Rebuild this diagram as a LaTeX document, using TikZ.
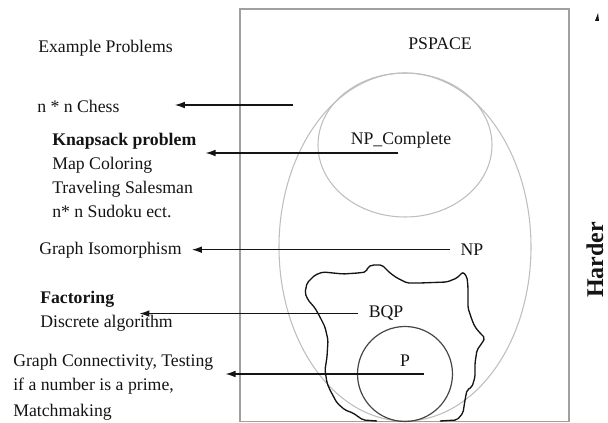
\documentclass[tikz,border=0pt]{standalone}
\usepackage{fontspec}
\setmainfont{Liberation Serif}
\usetikzlibrary{arrows.meta, positioning, calc}
\definecolor{boxgray}{RGB}{160, 160, 160}
\definecolor{setgray}{RGB}{190, 190, 190}
\definecolor{pgray}{RGB}{70, 70, 70}
\definecolor{inkblack}{RGB}{20, 20, 20}
\tikzset{
  x=0.75pt, y=-0.75pt,
  font=\fontsize{13.3}{16}\selectfont,
  examplelabel/.style={anchor=base west, inner sep=0pt, text=inkblack},
  classlabel/.style={anchor=base, inner ysep=0pt, inner xsep=7.5pt, text=inkblack},
  pspacebox/.style={draw=boxgray, line width=0.8pt},
  setline/.style={draw=setgray, line width=0.8pt},
  pline/.style={draw=pgray, line width=0.9pt},
  bqpline/.style={draw=inkblack, line width=1pt, rounded corners=1.5pt},
  probarrow/.style={
    draw=inkblack, -{Latex[length=7.5pt, width=5pt]}, line width=0.9pt
  }
}
\begin{document}
\begin{tikzpicture}
  \useasboundingbox (0,0) rectangle (608,423);

  % Complexity classes
  \draw[pspacebox] (240,9) rectangle (569,421.5);
  \draw[setline] (405,247) ellipse [x radius=126, y radius=174];
  \draw[setline] (405,145) ellipse [x radius=87, y radius=72];
  \draw[bqpline] (377,421) -- (363,420) -- (353,413) -- (345,410) -- (337,403)
    -- (330,390) -- (327,383) -- (325,370) -- (327,357) -- (328,340) -- (325,327)
    -- (320,317) -- (315,308) -- (308,300) -- (305,293) -- (307,283) -- (315,275)
    -- (323,272) -- (333,273) -- (343,274) -- (358,273) -- (366,272) -- (368,267)
    -- (372,265) -- (382,265) -- (385,268) -- (390,273) -- (397,278) -- (407,283)
    -- (420,283) -- (447,282) -- (457,278) -- (463,272) -- (467,277) -- (468,287)
    -- (468,308) -- (472,320) -- (475,327) -- (480,333) -- (485,338) -- (482,343)
    -- (477,350) -- (475,363) -- (475,377) -- (472,387) -- (467,390) -- (465,400)
    -- (463,413) -- (457,420) -- (440,421);
  \draw[pline] (405,374) circle [radius=47.5];

  \node[classlabel] (pspace) at (440,50) {PSPACE};
  \node[classlabel] (npc) at (401,145) {NP\_Complete};
  \node[classlabel] (np) at (472,255.5) {NP};
  \node[classlabel] (bqp) at (386,318) {BQP};
  \node[classlabel] (pclass) at (405,367) {P};

  % Example problems
  \node[examplelabel] (title) at (38,53) {Example Problems};
  \node[examplelabel] (chess) at (37,113) {n * n Chess};
  \node[examplelabel] (knap) at (52,146) {\textbf{Knapsack problem}};
  \node[examplelabel] (mapcol) at ($(knap.base west)+(0,24)$) {Map Coloring};
  \node[examplelabel] (tsp) at ($(mapcol.base west)+(0,24)$) {Traveling Salesman};
  \node[examplelabel] (sudoku) at ($(tsp.base west)+(0,24)$) {n* n Sudoku ect.};
  \node[examplelabel] (iso) at (39,255) {Graph Isomorphism};
  \node[examplelabel] (fact) at (40,304) {\textbf{Factoring}};
  \node[examplelabel] (dlog) at ($(fact.base west)+(0,24)$) {Discrete algorithm};
  \node[examplelabel] (conn) at (13,367) {Graph Connectivity, Testing};
  \node[examplelabel] (prime) at ($(conn.base west)+(0,24)$) {if a number is a prime,};
  \node[examplelabel] (match) at ($(prime.base west)+(0,26)$) {Matchmaking};

  % Harder axis
  \node[anchor=base, rotate=90, inner sep=0pt, text=inkblack,
        font=\fontsize{18}{22}\selectfont\bfseries] (harder) at (603,260) {Harder};
  \coordinate (hardertip) at (598,13);
  \fill[inkblack] (hardertip) -- (595,21) -- (599,21) -- cycle;

  % Connectors
  \coordinate (chessfrom) at (293,105);
  \coordinate (npcfrom) at (398,153);
  \coordinate (pfrom) at (424,374);
  \draw[probarrow] (chessfrom) -- ($(chess.east |- chessfrom)+(55,0)$);
  \draw[probarrow] (npcfrom) -- ($(knap.east |- npcfrom)+(9,0)$);
  \draw[probarrow] (np.west) -- ($(iso.east |- np.west)+(10,0)$);
  \draw[probarrow] (bqp.west) -- ($(fact.east |- bqp.west)+(25,0)$);
  \draw[probarrow] (pfrom) -- ($(conn.east |- pfrom)+(12,0)$);

\end{tikzpicture}
\end{document}
